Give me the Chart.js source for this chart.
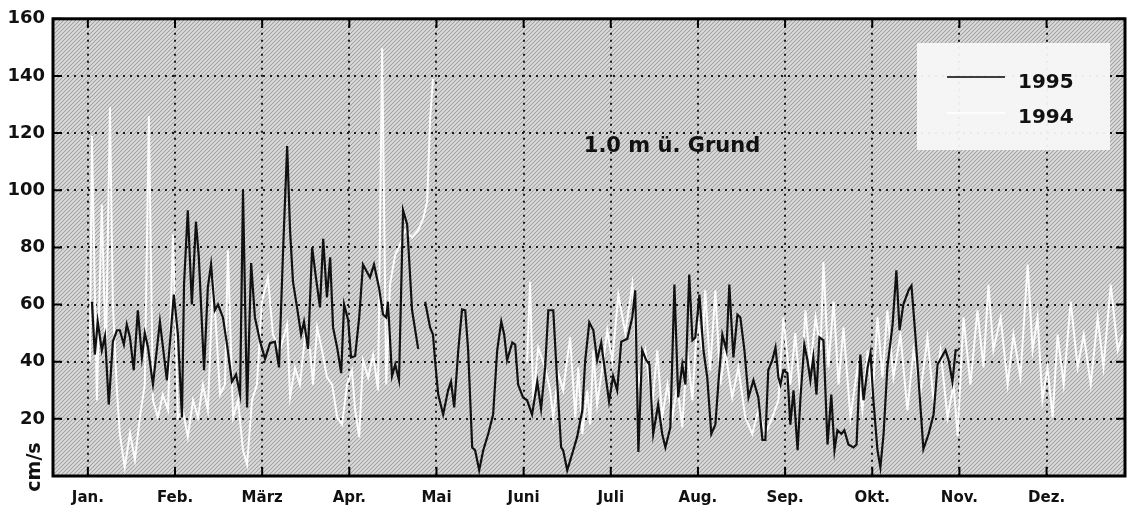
<!DOCTYPE html>
<html>
<head>
<meta charset="utf-8">
<script src="https://cdn.jsdelivr.net/npm/chart.js@4/dist/chart.umd.min.js"></script>
<style>
  body { margin: 0; background: #fff; }
  canvas { display: block; }
</style>
</head>
<body>
<canvas id="chartJS" width="1129" height="510"></canvas>
<script>
// Monatsachse: Tage ab 1. Jan., 30 Tage je Monat (Gitter gleichmäßig)
const months = ['Jan.', 'Feb.', 'März', 'Apr.', 'Mai', 'Juni', 'Juli', 'Aug.', 'Sep.', 'Okt.', 'Nov.', 'Dez.']
const monthStart = [0, 30, 60, 90, 120, 150, 180, 210, 240, 270, 300, 330]
const yTicks = [0, 20, 40, 60, 80, 100, 120, 140, 160]

// 1995 (schwarz)
const days1995 = [1.4, 2.4, 3.4, 4.8, 5.9, 7.2, 8.6, 10.0, 11.0, 12.4, 13.4, 14.5, 15.8, 17.2, 18.6, 19.6, 20.7, 22.4, 24.8, 27.2,
    29.6, 31.0, 32.4, 33.1, 34.4, 35.8, 37.2, 38.2, 40.0, 41.3, 42.4, 43.7, 44.8, 46.5, 47.9, 49.6, 51.0, 52.4, 53.4, 54.8,
    56.2, 57.5, 59.3, 61.0, 62.7, 64.4, 65.8, 67.2, 68.6, 69.6, 70.6, 72.0, 73.4, 74.4, 75.8, 77.2, 78.5, 79.9, 81.0, 82.3,
    83.4, 84.4, 85.8, 87.2, 88.2, 89.6, 90.6, 92.0, 93.4, 94.7, 97.1, 98.5, 100.2, 101.6, 102.7, 103.3, 104.7, 105.8, 107.1, 108.5,
    109.9, 111.6, 113.7, 115.0, 116.1, 117.8, 118.8, 119.5, 120.6, 122.3, 124.0, 125.0, 126.1, 127.5, 128.8, 129.9, 130.9, 132.3, 133.3, 134.7,
    136.1, 137.8, 139.5, 140.9, 142.3, 143.3, 144.3, 146.1, 147.1, 148.1, 149.8, 151.2, 152.9, 154.7, 156.0, 157.4, 158.5, 160.2, 161.6, 162.9,
    163.6, 165.0, 166.7, 168.4, 170.2, 171.2, 172.6, 174.0, 175.3, 176.7, 178.1, 179.4, 180.8, 182.2, 183.6, 185.7, 187.4, 188.4, 189.5, 190.8,
    192.2, 193.3, 194.6, 196.3, 197.7, 198.8, 200.5, 201.9, 203.2, 204.6, 205.7, 207.0, 208.1, 209.1, 210.5, 211.9, 213.2, 214.6, 216.0, 217.0,
    218.4, 219.8, 220.8, 222.2, 223.6, 224.6, 226.0, 227.4, 229.1, 230.8, 232.2, 233.2, 234.2, 235.6, 236.7, 237.7, 238.4, 239.4, 240.8, 241.8,
    242.9, 244.3, 245.3, 246.6, 247.7, 248.7, 249.7, 250.8, 251.8, 253.2, 254.6, 255.9, 257.0, 258.0, 259.4, 260.4, 261.8, 263.5, 264.6, 265.9,
    267.0, 268.4, 269.4, 270.4, 271.8, 272.8, 273.9, 275.2, 277.0, 278.3, 279.4, 280.7, 282.5, 283.5, 284.9, 286.3, 287.6, 289.4, 291.1, 292.5,
    293.8, 295.2, 296.3, 297.6, 298.7, 299.7]
const speed1995 = [61, 42.5, 54, 44, 49, 25, 47, 51, 51, 46, 53, 48.5, 37, 58, 41.5, 50, 45, 32, 54, 33.5,
    63.5, 49.5, 20.5, 67, 93, 60, 89, 76.5, 37, 66, 74, 58, 60, 55.5, 46, 33, 35.5, 28.5, 100, 24,
    74.5, 55.5, 47, 41, 46.5, 47, 38, 79, 115.5, 86, 68, 59, 49.5, 54, 44.5, 80, 69.5, 59, 83, 62.5,
    76.5, 52, 45, 36, 60, 54.5, 41.5, 42, 55.5, 74, 69.5, 74, 66, 56.5, 55.5, 61, 35, 39, 33.5, 93,
    88, 58, 44.5, null, 61, 52, 49.5, 40.5, 28.5, 21.5, 30, 33, 24, 44, 58.3, 58, 44, 10, 9, 2,
    9, 14.7, 21.5, 44, 54, 49.5, 40.5, 46.7, 46, 32, 27.5, 26.5, 21.5, 33, 23.5, 38, 58, 58, 32, 10,
    9, 2, 7.7, 13.6, 23, 40.5, 53.7, 51, 40.5, 46.7, 36, 26, 35, 30, 47, 48, 55.5, 65, 8.4, 44,
    40.5, 39, 14.7, 25, 14.7, 10, 17, 67, 27.5, 39, 32, 70.5, 47.5, 48.5, 63.5, 44, 34.5, 14.7, 18, 32,
    49.5, 44, 67, 41.5, 56.5, 55.5, 44, 27.5, 33.5, 27.5, 12.6, 12.6, 37, 40.5, 45, 34.5, 32, 37, 36, 18,
    30, 9, 27.5, 46, 40.5, 33.5, 41.5, 28.5, 48.5, 47.5, 11, 28.5, 9, 16, 14.7, 16, 11, 10, 11, 42.5,
    26.5, 38, 43, 26.5, 9, 3, 14.7, 38, 53, 72, 51, 60, 65, 66.6, 48.5, 28.5, 9.4, 14.7, 21.5, 39,
    41.5, 44, 40.5, 33, 44, 44]

// 1994 (weiß)
const days1994 = [0.7, 1.4, 3.1, 4.8, 6.2, 7.6, 8.6, 10.0, 11.0, 12.7, 14.5, 16.2, 17.9, 19.6, 21.0, 22.4, 24.1, 25.8, 27.6, 29.3,
    31.0, 32.7, 34.4, 36.2, 37.9, 39.6, 41.3, 43.1, 45.5, 47.2, 48.2, 50.0, 51.7, 53.4, 54.8, 56.5, 58.2, 59.9, 62.0, 63.7,
    66.1, 68.6, 69.6, 71.3, 73.0, 74.8, 76.5, 77.5, 78.9, 80.6, 82.3, 84.1, 85.8, 87.5, 89.2, 90.9, 92.0, 93.4, 94.7, 96.5,
    98.2, 99.9, 101.3, 102.7, 104.0, 105.8, 107.5, 109.2, 111.6, 113.7, 115.4, 116.8, 117.8, 118.8, 135.0, 151.2, 152.2, 153.3, 155.0, 157.4,
    159.1, 160.2, 161.9, 163.6, 166.0, 167.8, 168.8, 170.2, 171.9, 172.9, 174.0, 175.3, 177.1, 178.8, 180.5, 182.6, 185.0, 187.4, 189.5, 191.9,
    194.3, 196.0, 197.7, 199.5, 201.2, 202.9, 204.6, 206.3, 208.1, 209.8, 211.5, 212.5, 214.2, 216.0, 217.7, 219.4, 221.8, 223.9, 226.3, 228.7,
    230.8, 233.2, 235.6, 237.7, 239.4, 241.8, 243.5, 245.3, 247.0, 248.7, 250.5, 252.2, 253.2, 254.9, 256.7, 258.4, 260.1, 262.5, 264.9, 266.6,
    268.4, 270.1, 271.8, 273.5, 275.2, 277.3, 279.7, 282.1, 284.2, 286.6, 289.0, 291.1, 293.5, 295.9, 298.0, 299.4, 301.4, 303.8, 306.2, 308.3,
    310.0, 311.7, 314.2, 316.6, 318.6, 321.0, 323.5, 325.2, 326.9, 328.6, 330.3, 332.1, 333.8, 335.9, 338.3, 340.7, 342.8, 345.2, 347.6, 349.6,
    352.1, 354.5, 356.2]
const speed1994 = [40, 119, 26.5, 95, 40, 129, 60, 30, 14.7, 3, 15, 5.6, 20.5, 32, 126, 26.5, 20.5, 28.5, 23, 84.5,
    20.5, 23, 13.6, 26.5, 20.5, 32, 23, 69.5, 28.5, 32, 79, 20.5, 26.5, 9, 4, 26.5, 32, 61, 69.5, 49.5,
    44, 53, 27.5, 38, 32, 49.5, 44, 32, 52, 44, 34.5, 32, 20.5, 18, 32, 37, 23, 13.6, 40.5, 34.5,
    42.5, 30, 149.7, 32, 67, 77.5, 81, 86, 83.5, 86, 90, 96, 125, 139, null, 40, 68, 26.5, 45, 38,
    30, 20.5, 36, 30, 48.5, 20.5, 38, 14.7, 30, 18, 44, 25, 38, 51, 40, 63.5, 50, 67, 32, 44,
    25, 44, 20.5, 32, 20.5, 32, 17, 44, 26.5, 55.5, 44, 65, 37, 65, 32, 44, 27.5, 38, 20.5, 14.7,
    23, 14.7, 20.5, 26.5, 55.5, 32, 50, 27.5, 58, 38, 55.5, 44, 75, 38, 61, 32, 52, 20.5, 38, 23,
    44, 27.5, 55.5, 34.5, 58, 34.5, 49.5, 23, 44, 29, 48.5, 26.5, 44, 20.5, 32, 14, 55.5, 32, 58, 38,
    67, 44, 55.5, 32, 49.5, 34.5, 74, 44, 55.5, 26.5, 38, 20.5, 49.5, 32, 61, 38, 49.5, 32, 55.5, 38,
    67, 44, 49.5]

const FONT = 'DejaVu Sans'

// Rasterhintergrund
const pc = document.createElement('canvas')
pc.width = 4
pc.height = 4
const pctx = pc.getContext('2d')
pctx.fillStyle = '#cfcfcf'
pctx.fillRect(0, 0, 4, 4)
pctx.fillStyle = '#a2a2a2'
for (let i = 0; i < 4; i++) {
    pctx.fillRect(i, 3 - i, 1, 1)
}
pctx.fillStyle = '#dcdcdc'
for (let i = 0; i < 4; i++) {
    pctx.fillRect(i, (5 - i) % 4, 1, 1)
}

const decor = {
    id: 'decor',
    beforeDraw(chart) {
        const { ctx, chartArea: a } = chart
        ctx.save()
        ctx.fillStyle = ctx.createPattern(pc, 'repeat')
        ctx.fillRect(a.left, a.top, a.right - a.left, a.bottom - a.top)
        ctx.restore()
    },
    afterDraw(chart) {
        const { ctx, chartArea: a } = chart
        const xs = chart.scales.x
        const ys = chart.scales.y
        ctx.save()

        // innere Teilstriche
        ctx.strokeStyle = '#000'
        ctx.lineWidth = 2
        ctx.beginPath()
        monthStart.forEach(m => {
            const px = xs.getPixelForValue(m)
            ctx.moveTo(px, a.top); ctx.lineTo(px, a.top + 9)
            ctx.moveTo(px, a.bottom); ctx.lineTo(px, a.bottom - 9)
        })
        yTicks.forEach(v => {
            const py = ys.getPixelForValue(v)
            ctx.moveTo(a.left, py); ctx.lineTo(a.left + 9, py)
            ctx.moveTo(a.right, py); ctx.lineTo(a.right - 9, py)
        })
        ctx.stroke()

        // Rahmen
        ctx.lineWidth = 3
        ctx.strokeRect(a.left, a.top, a.right - a.left, a.bottom - a.top)

        // Beschriftung im Diagramm
        ctx.fillStyle = '#111'
        ctx.font = 'bold 21px ' + FONT
        ctx.textAlign = 'center'
        ctx.textBaseline = 'middle'
        ctx.fillText('1.0 m ü. Grund', 672, 147)

        // Legende
        ctx.fillStyle = 'rgba(248,248,248,0.94)'
        ctx.fillRect(917, 43, 193, 107)
        ctx.lineWidth = 1.5
        ctx.strokeStyle = '#000'
        ctx.beginPath(); ctx.moveTo(947, 77); ctx.lineTo(1005, 77); ctx.stroke()
        ctx.strokeStyle = '#fff'
        ctx.beginPath(); ctx.moveTo(947, 113); ctx.lineTo(1005, 113); ctx.stroke()
        ctx.fillStyle = '#111'
        ctx.font = 'bold 20px ' + FONT
        ctx.textAlign = 'left'
        ctx.fillText('1995', 1018, 83)
        ctx.fillText('1994', 1018, 118)

        // Einheit
        ctx.translate(35, 467)
        ctx.rotate(-Math.PI / 2)
        ctx.font = 'bold 19px ' + FONT
        ctx.textAlign = 'center'
        ctx.fillText('cm/s', 0, 0)
        ctx.restore()
    }
}

const grafico = document.getElementById('chartJS')

const data = {
    datasets: [
        {
            label: '1995',
            data: days1995.map((d, i) => ({ x: d, y: speed1995[i] })),
            borderColor: '#111',
            borderWidth: 2.2,
            pointRadius: 0,
            tension: 0,
            spanGaps: false,
            order: 1,
        },
        {
            label: '1994',
            data: days1994.map((d, i) => ({ x: d, y: speed1994[i] })),
            borderColor: 'rgba(255,255,255,0.95)',
            borderWidth: 2,
            pointRadius: 0,
            tension: 0,
            spanGaps: false,
            order: 2,
        },
    ]
}

const config = {
    type: 'line',
    data: data,
    options: {
        responsive: false,
        animation: false,
        devicePixelRatio: 1,
        layout: { padding: { top: 17, right: 4, left: 0, bottom: 0 } },
        plugins: {
            legend: { display: false },
            tooltip: { enabled: false },
        },
        scales: {
            x: {
                type: 'linear',
                min: -12,
                max: 357,
                afterBuildTicks: s => { s.ticks = monthStart.map(v => ({ value: v })) },
                afterFit: s => { s.height = 34 },
                ticks: {
                    autoSkip: false,
                    maxRotation: 0,
                    padding: 13,
                    color: '#111',
                    font: { family: FONT, size: 15, weight: 'bold' },
                    callback: v => months[monthStart.indexOf(v)],
                },
                grid: { color: '#1a1a1a', lineWidth: 2, drawTicks: false },
                border: { display: false, dash: [2, 5] },
            },
            y: {
                min: 0,
                max: 160,
                afterBuildTicks: s => { s.ticks = yTicks.map(v => ({ value: v })) },
                afterFit: s => { s.width = 53 },
                ticks: {
                    padding: 8,
                    color: '#111',
                    font: { family: FONT, size: 18, weight: 'bold' },
                    callback: v => (v === 0 ? '' : v),
                },
                grid: { color: '#1a1a1a', lineWidth: 2, drawTicks: false },
                border: { display: false, dash: [2, 5] },
            },
        },
    },
    plugins: [decor],
}

const chart = new Chart(grafico, config)
</script>
</body>
</html>
